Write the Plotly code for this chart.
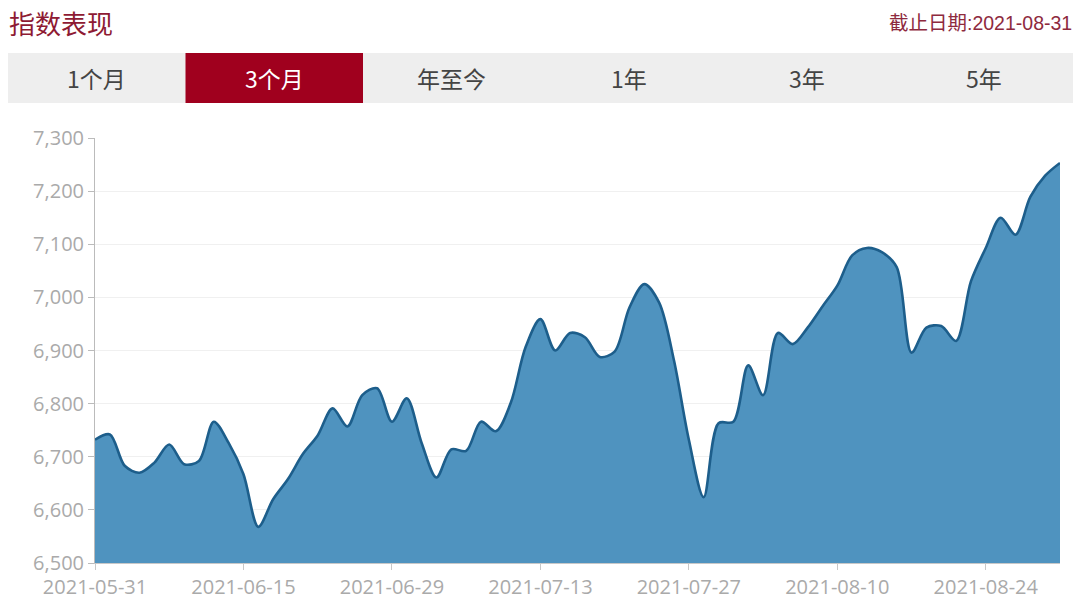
import plotly.graph_objects as go

dates = [
    "2021-05-31",
    "2021-06-01", "2021-06-02", "2021-06-03", "2021-06-04", "2021-06-07", "2021-06-08",
    "2021-06-09", "2021-06-10", "2021-06-11", "2021-06-15", "2021-06-16", "2021-06-17",
    "2021-06-18", "2021-06-21", "2021-06-22", "2021-06-23", "2021-06-24", "2021-06-25",
    "2021-06-28", "2021-06-29", "2021-06-30",
    "2021-07-01", "2021-07-02", "2021-07-05", "2021-07-06", "2021-07-07", "2021-07-08",
    "2021-07-09", "2021-07-12", "2021-07-13", "2021-07-14", "2021-07-15", "2021-07-16",
    "2021-07-19", "2021-07-20", "2021-07-21", "2021-07-22", "2021-07-23", "2021-07-26",
    "2021-07-27", "2021-07-28", "2021-07-29", "2021-07-30",
    "2021-08-02", "2021-08-03", "2021-08-04", "2021-08-05", "2021-08-06", "2021-08-09",
    "2021-08-10", "2021-08-11", "2021-08-12", "2021-08-13", "2021-08-16", "2021-08-17",
    "2021-08-18", "2021-08-19", "2021-08-20", "2021-08-23", "2021-08-24", "2021-08-25",
    "2021-08-26", "2021-08-27", "2021-08-30", "2021-08-31",
]

index_values = [
    6732, 6742, 6683, 6670, 6689, 6723, 6686, 6692, 6766, 6726,
    6667, 6568, 6620, 6658, 6705, 6740, 6791, 6757, 6816, 6829,
    6766, 6810, 6726, 6661, 6714, 6711, 6766, 6748, 6801, 6906,
    6959, 6900, 6933, 6925, 6888, 6898, 6981, 7025, 6990, 6881,
    6732, 6624, 6763, 6766, 6872, 6816, 6933, 6912, 6943, 6983,
    7022, 7079, 7093, 7085, 7057, 6896, 6943, 6946, 6918, 7030,
    7093, 7150, 7118, 7189, 7229, 7253,
]

tick_dates = ["2021-05-31", "2021-06-15", "2021-06-29", "2021-07-13",
              "2021-07-27", "2021-08-10", "2021-08-24"]
y_ticks = [6500, 6600, 6700, 6800, 6900, 7000, 7100, 7200, 7300]

tabs = ["1个月", "3个月", "年至今", "1年", "3年", "5年"]
selected_tab = "3个月"
title_text = "指数表现"
date_text = "截止日期:2021-08-31"

W, H = 1080, 601
RED = "#a0001e"
ML, MR, MT, MB = 95, 20, 138, 38

fig = go.Figure()
fig.add_trace(go.Scatter(
    x=dates, y=index_values, mode="lines",
    line=dict(color="#1d5e8b", width=2.6, shape="spline", smoothing=0.9),
    fill="tozeroy", fillcolor="#4f93bf",
    hoverinfo="x+y", showlegend=False,
))

fig.update_layout(
    width=W, height=H,
    margin=dict(l=ML, r=MR, t=MT, b=MB, autoexpand=False),
    paper_bgcolor="white", plot_bgcolor="white",
    font=dict(family="Open Sans, Noto Sans CJK SC, sans-serif", color="#aaaaaa"),
    xaxis=dict(
        type="category", range=[0, len(dates) - 1],
        tickvals=tick_dates, ticktext=tick_dates,
        showgrid=False, showline=True, linecolor="#c8c8c8", linewidth=1,
        ticks="outside", ticklen=6, tickcolor="#c8c8c8",
        tickfont=dict(size=20, color="#aaaaaa"),
        zeroline=False, fixedrange=True, automargin=False,
    ),
    yaxis=dict(
        range=[6500, 7300], tickvals=y_ticks,
        ticktext=[f"{v:,}" for v in y_ticks],
        showgrid=True, gridcolor="#f0f0f0", gridwidth=1,
        showline=True, linecolor="#bbbbbb", linewidth=1,
        ticks="outside", ticklen=6, tickcolor="#bbbbbb",
        tickfont=dict(size=20, color="#aaaaaa"),
        zeroline=False, fixedrange=True, automargin=False,
    ),
)

pw = W - ML - MR
ph = H - MT - MB
def px_x(v):
    return (v - ML) / pw
def px_y(v):
    return (H - MB - v) / ph

# Header texts
fig.add_annotation(
    text=title_text, xref="paper", yref="paper",
    x=px_x(7), y=px_y(22),
    xanchor="left", yanchor="middle", showarrow=False,
    font=dict(size=26, color="#8e1a33", family="Noto Sans CJK SC, sans-serif"),
)
fig.add_annotation(
    text=date_text, xref="paper", yref="paper",
    x=px_x(1074), y=px_y(23),
    xanchor="right", yanchor="middle", showarrow=False,
    font=dict(size=19.5, color="#8e2a3e", family="Liberation Sans, Noto Sans CJK SC, sans-serif"),
)

# Tab bar
tab_left, tab_right = 8, 1073
tab_top, tab_bottom = 53, 103
tab_w = (tab_right - tab_left) / len(tabs)
fig.add_shape(type="rect", xref="paper", yref="paper",
              x0=px_x(tab_left), x1=px_x(tab_right),
              y0=px_y(tab_bottom), y1=px_y(tab_top),
              fillcolor="#eeeeee", line=dict(width=0), layer="below")
for k, name in enumerate(tabs):
    x0 = tab_left + k * tab_w
    sel = name == selected_tab
    if sel:
        fig.add_shape(type="rect", xref="paper", yref="paper",
                      x0=px_x(x0), x1=px_x(x0 + tab_w),
                      y0=px_y(tab_bottom), y1=px_y(tab_top),
                      fillcolor=RED, line=dict(width=0), layer="below")
    fig.add_annotation(
        text=name, xref="paper", yref="paper",
        x=px_x(x0 + tab_w / 2), y=px_y((tab_top + tab_bottom) / 2),
        xanchor="center", yanchor="middle", showarrow=False,
        font=dict(size=23, color="white" if sel else "#444444",
                  family="Noto Sans CJK SC, sans-serif"),
    )

fig.write_html(
    "out.html",
    config={"displayModeBar": False},
    post_script="document.body.style.margin='0';document.body.style.padding='0';",
)
